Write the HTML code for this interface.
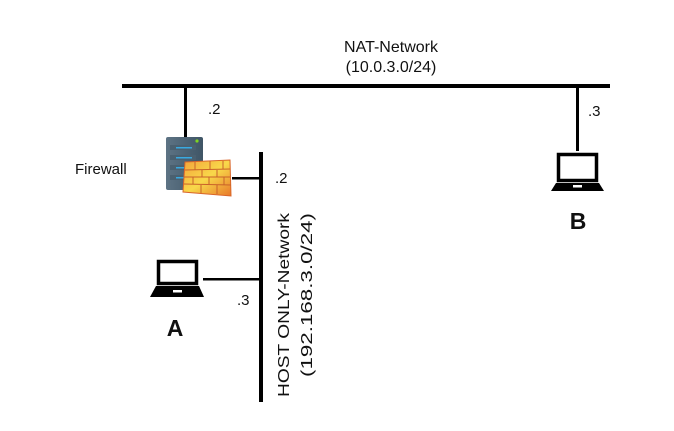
<!DOCTYPE html>
<html><head><style>
body{margin:0;background:#fff;}
svg{display:block;font-family:"Liberation Sans",sans-serif;}
</style></head><body>
<svg width="674" height="431" viewBox="0 0 674 431">
<defs>
<linearGradient id="srv" x1="0" y1="0" x2="1" y2="0"><stop offset="0" stop-color="#5d7384"/><stop offset="1" stop-color="#3f5566"/></linearGradient>
<linearGradient id="brk" x1="0" y1="0" x2="1" y2="1"><stop offset="0" stop-color="#f4a23a"/><stop offset="0.5" stop-color="#f8d84a"/><stop offset="1" stop-color="#e8782a"/></linearGradient>
</defs>
<text x="391" y="52" font-size="16" text-anchor="middle" fill="#111">NAT-Network</text>
<text x="391" y="72" font-size="16" text-anchor="middle" fill="#111">(10.0.3.0/24)</text>
<rect x="122" y="84" width="488" height="4" fill="#000"/>
<rect x="184" y="86" width="3" height="52" fill="#000"/>
<rect x="576" y="86" width="3" height="65" fill="#000"/>
<text x="208" y="114" font-size="15" fill="#111">.2</text>
<text x="588" y="116" font-size="15" fill="#111">.3</text>
<text x="75" y="174" font-size="15" fill="#111">Firewall</text>
<!-- server -->
<rect x="166" y="137" width="37" height="53" rx="2" fill="url(#srv)"/>
<circle cx="197" cy="141" r="1.6" fill="#7ed321"/>
<rect x="170" y="145" width="26" height="5" fill="#4a6070"/><rect x="176" y="147" width="16" height="1.5" fill="#39a9e0"/>
<rect x="170" y="155" width="26" height="5" fill="#4a6070"/><rect x="176" y="157" width="16" height="1.5" fill="#39a9e0"/>
<rect x="170" y="165" width="26" height="5" fill="#4a6070"/><rect x="176" y="167" width="16" height="1.5" fill="#39a9e0"/>
<rect x="170" y="175" width="26" height="5" fill="#4a6070"/><rect x="176" y="177" width="16" height="1.5" fill="#39a9e0"/>
<!-- wall -->
<polygon points="185,162 230,160 231,196 183,192" fill="url(#brk)" stroke="#d9652a" stroke-width="1"/>
<g stroke="#c9622a" stroke-width="1">
<line x1="185" y1="170" x2="230" y2="169"/><line x1="184" y1="177" x2="230" y2="177"/><line x1="184" y1="184" x2="231" y2="185"/>
<line x1="195" y1="162" x2="195" y2="170"/><line x1="210" y1="161" x2="210" y2="170"/><line x1="223" y1="161" x2="223" y2="169"/>
<line x1="202" y1="170" x2="202" y2="177"/><line x1="217" y1="170" x2="217" y2="177"/>
<line x1="193" y1="177" x2="193" y2="184"/><line x1="209" y1="177" x2="209" y2="184"/><line x1="224" y1="177" x2="224" y2="185"/>
<line x1="201" y1="185" x2="201" y2="193"/><line x1="217" y1="185" x2="217" y2="194"/>
</g>
<rect x="232" y="177" width="29" height="2.5" fill="#000"/>
<rect x="259" y="152" width="4" height="250" fill="#000"/>
<text x="275" y="183" font-size="15" fill="#111">.2</text>
<!-- laptop A -->
<rect x="158.5" y="261.5" width="38" height="22" fill="#fff" stroke="#000" stroke-width="3.5"/>
<polygon points="156,286 199,286 204,297 150,297" fill="#000"/>
<rect x="173" y="290" width="9" height="2.5" fill="#fff"/>
<rect x="203" y="278" width="58" height="2.5" fill="#000"/>
<text x="237" y="305" font-size="15" fill="#111">.3</text>
<text x="175" y="336" font-size="23" font-weight="bold" text-anchor="middle" fill="#111">A</text>
<text transform="translate(289,397) rotate(-90)" font-size="16" textLength="184" lengthAdjust="spacingAndGlyphs" fill="#111">HOST ONLY-Network</text>
<text transform="translate(312,377) rotate(-90)" font-size="16" textLength="164" lengthAdjust="spacingAndGlyphs" fill="#111">(192.168.3.0/24)</text>
<!-- laptop B -->
<rect x="558.5" y="154.5" width="38" height="26" fill="#fff" stroke="#000" stroke-width="3.5"/>
<polygon points="556,183 599,183 604,191 551,191" fill="#000"/>
<rect x="573" y="185" width="9" height="2.5" fill="#fff"/>
<text x="578" y="229" font-size="23" font-weight="bold" text-anchor="middle" fill="#111">B</text>
</svg>
</body></html>
